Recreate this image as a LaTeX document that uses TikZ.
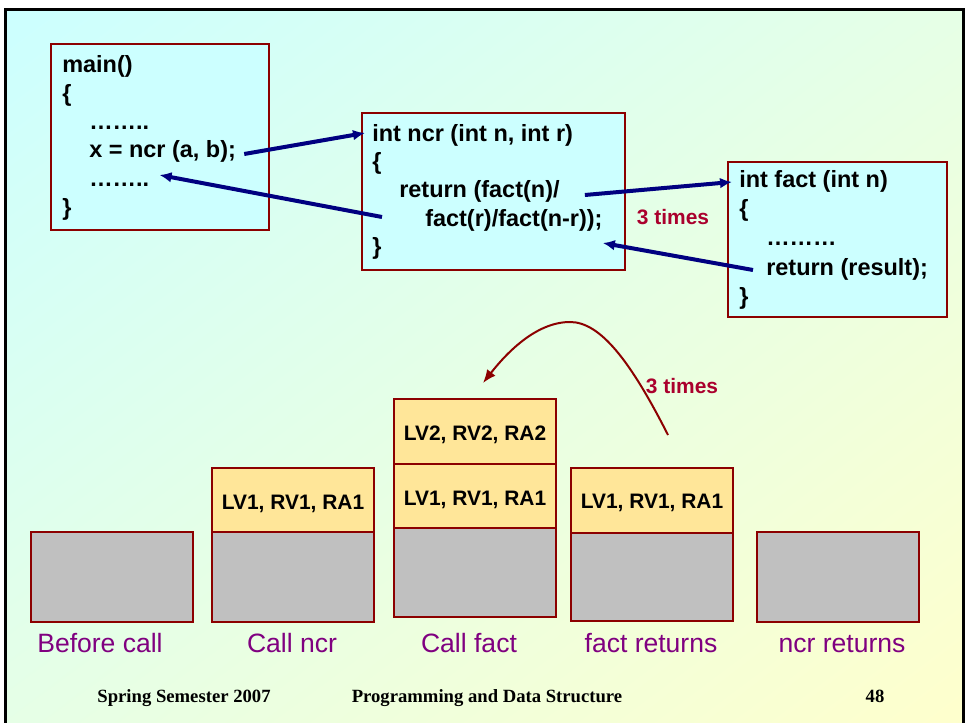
\documentclass[tikz,border=0pt]{standalone}
\usepackage{fontspec}
\setmainfont{Liberation Sans}
\newfontfamily\footfont{Liberation Serif}
\usetikzlibrary{calc,positioning,arrows,arrows.meta,shadings}

\definecolor{codebg}{RGB}{204,255,255}
\definecolor{boxred}{RGB}{140,0,0}
\definecolor{arrownavy}{RGB}{0,0,128}
\definecolor{timesred}{RGB}{170,0,45}
\definecolor{recyellow}{RGB}{255,230,153}
\definecolor{recgray}{RGB}{192,192,192}
\definecolor{labelpurple}{RGB}{128,0,128}
\definecolor{bgcyan}{RGB}{204,255,255}
\definecolor{bgmid}{RGB}{230,255,230}
\definecolor{bgyellow}{RGB}{255,255,204}

\tikzset{
  codeline/.style={anchor=base west,inner sep=0pt,font=\fontsize{17.6}{21}\selectfont\bfseries},
  codebox/.style={draw=boxred,fill=codebg,line width=1.6pt},
  callarrow/.style={draw=arrownavy,line width=3pt,-{Latex[length=9pt,width=8pt]}},
  timesnote/.style={text=timesred,inner sep=0pt,font=\fontsize{15.7}{18}\selectfont\bfseries},
  recbox/.style={draw=boxred,fill=recyellow,line width=1.6pt},
  basebox/.style={draw=boxred,fill=recgray,line width=1.6pt},
  rectext/.style={anchor=base,inner sep=0pt,font=\fontsize{15.7}{18}\selectfont\bfseries},
  steplabel/.style={anchor=base,inner sep=0pt,text=labelpurple,font=\fontsize{19.9}{23}\selectfont},
  foottext/.style={anchor=base,inner sep=0pt,font=\fontsize{14}{16}\footfont\bfseries},
  repeatarc/.style={draw=boxred,line width=1.5pt,-{Latex[length=10pt,width=8pt]}}
}

\begin{document}
\begin{tikzpicture}[x=0.75pt,y=-0.75pt]
\useasboundingbox (0,0) rectangle (967,723);
\fill[white] (0,0) rectangle (967,723);
% slide background
\shade[upper left=bgcyan,upper right=bgmid,lower left=bgmid,lower right=bgyellow] (5,10) rectangle (963,735);
\draw[black,line width=2.25pt] (5,10) rectangle (963,735);

% main()
\draw[codebox] (51,44) rectangle (269,230);
\node[codeline] (mainHead) at (62,73) {main()};
\node[codeline] (mainOpen) at (62,102) {\{};
\node[codeline] (mainDots1) at (89,130) {……..};
\node[codeline] (mainCall) at (89,158) {x = ncr (a, b);};
\node[codeline] (mainDots2) at (89,187) {……..};
\node[codeline] (mainClose) at (62,216) {\}};

% ncr()
\draw[codebox] (362,113) rectangle (625,270);
\node[codeline] (ncrHead) at (372,142) {int ncr (int n, int r)};
\node[codeline] (ncrOpen) at (372,170) {\{};
\node[codeline] (ncrRet1) at (399,198) {return (fact(n)/};
\node[codeline] (ncrRet2) at (425,227) {fact(r)/fact(n-r));};
\node[codeline] (ncrClose) at (372,255) {\}};

% fact()
\draw[codebox] (728,162) rectangle (947,317);
\node[codeline] (factHead) at (739,188) {int fact (int n)};
\node[codeline] (factOpen) at (739,217) {\{};
\node[codeline] (factDots) at (766,246) {………};
\node[codeline] (factRet) at (766,276) {return (result);};
\node[codeline] (factClose) at (739,305) {\}};

\node[timesnote] (callCount) at (673,217) {3 times};

% calls and returns
\draw[callarrow] ($(mainCall.base east)+(8,-4)$) -- ($(ncrHead.base west)+(-7,-9)$);
\draw[callarrow] ($(ncrRet2.base west)+(-43,-10)$) -- ($(mainDots2.base east)+(10,-12)$);
\draw[callarrow] ($(ncrRet1.base east)+(25,-3)$) -- ($(factHead.base west)+(-7,-6)$);
\draw[callarrow] ($(factRet.base west)+(-13,-6)$) -- ($(ncrRet2.base east)+(0,16)$);

% stack frames
\draw[basebox] (31,532) rectangle (193,622);
\draw[basebox] (212,532) rectangle (374,622);
\draw[recbox] (212,468) rectangle (374,532);
\node[rectext] (ncrRec) at (293,509) {LV1, RV1, RA1};
\draw[basebox] (394,528) rectangle (556,617);
\draw[recbox] (394,464) rectangle (556,528);
\draw[recbox] (394,399) rectangle (556,464);
\node[rectext] (ncrRecB) at (475,505) {LV1, RV1, RA1};
\node[rectext] (factRec) at (475,440) {LV2, RV2, RA2};
\draw[basebox] (571,533) rectangle (733,621);
\draw[recbox] (571,468) rectangle (733,533);
\node[rectext] (ncrRecC) at (652,508) {LV1, RV1, RA1};
\draw[basebox] (757,532) rectangle (919,622);

\node[steplabel] (beforeLbl) at (100,652) {Before call};
\node[steplabel] (callNcrLbl) at (292,652) {Call ncr};
\node[steplabel] (callFactLbl) at (469,652) {Call fact};
\node[steplabel] (factRetLbl) at (651,652) {fact returns};
\node[steplabel] (ncrRetLbl) at (842,652) {ncr returns};

% repeated call
\coordinate (arcStart) at (668,435);
\coordinate (arcEnd) at (483,383);
\draw[repeatarc] (arcStart) .. controls (630,360) and (600,322) .. (570,322) .. controls (535,322) and (505,355) .. (arcEnd);
\node[timesnote] (arcCount) at (682,386) {3 times};

% footer
\node[foottext] (footTerm) at (184,702) {Spring Semester 2007};
\node[foottext] (footCourse) at (487,702) {Programming and Data Structure};
\node[foottext] (footPage) at (875,702) {48};
\end{tikzpicture}
\end{document}
